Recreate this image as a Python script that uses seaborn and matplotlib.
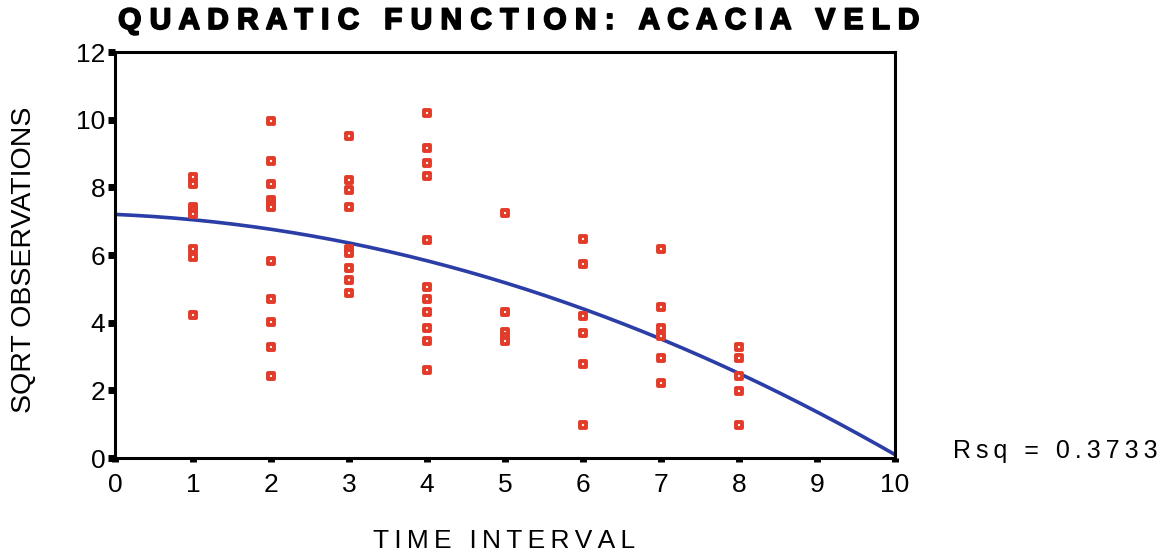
import numpy as np
import pandas as pd
import matplotlib
matplotlib.use("Agg")
import matplotlib.pyplot as plt
import matplotlib.patheffects as pe
import seaborn as sns

# ---- data ----
interval_1 = [8.32, 8.10, 7.43, 7.32, 7.20, 6.19, 5.95, 4.22]
interval_2 = [9.96, 8.78, 8.10, 7.62, 7.52, 7.43, 5.82, 4.70, 4.02, 3.29, 2.42]
interval_3 = [9.52, 8.22, 7.91, 7.42, 6.19, 6.06, 5.63, 5.26, 4.89]
interval_4 = [10.20, 9.15, 8.71, 8.34, 6.43, 5.06, 4.69, 4.32, 3.84, 3.46, 2.61]
interval_5 = [7.23, 4.32, 3.72, 3.59, 3.46]
interval_6 = [6.48, 5.74, 4.20, 3.70, 2.78, 0.98]
interval_7 = [6.18, 4.45, 3.84, 3.60, 2.97, 2.22]
interval_8 = [3.27, 2.97, 2.41, 1.97, 0.98]
# quadratic fit: b0 + b1*x + b2*x^2
fit_coef = [7.2, -0.0975, -0.06125]
x_ticks = [0, 1, 2, 3, 4, 5, 6, 7, 8, 9, 10]
y_ticks = [0, 2, 4, 6, 8, 10, 12]
title = "QUADRATIC FUNCTION: ACACIA VELD"
rsq_text = "Rsq = 0.3733"

groups = [interval_1, interval_2, interval_3, interval_4,
          interval_5, interval_6, interval_7, interval_8]
df = pd.DataFrame({
    "time": np.concatenate([[i + 1] * len(g) for i, g in enumerate(groups)]),
    "obs": np.concatenate(groups),
})
xs = np.linspace(x_ticks[0], x_ticks[-1], 200)
curve = pd.DataFrame({"time": xs,
                      "obs": fit_coef[0] + fit_coef[1] * xs + fit_coef[2] * xs ** 2})

sns.set_theme(style="white")
plt.rcParams["font.family"] = ["Liberation Sans", "DejaVu Sans"]
plt.rcParams["text.color"] = "black"
plt.rcParams["xtick.color"] = "black"
plt.rcParams["ytick.color"] = "black"

fig = plt.figure(figsize=(11.76, 5.59), dpi=100)
ax = fig.add_axes([115 / 1176, 1 - 458 / 559, 780 / 1176, 406 / 559])

red = "#e23b2a"
blue = "#2b3da6"
sns.lineplot(data=curve, x="time", y="obs", color=blue, lw=2.6, ax=ax, zorder=2)
sns.scatterplot(data=df, x="time", y="obs", marker="s", s=20, color="#fff4ea",
                edgecolor=red, linewidth=2.8, ax=ax, zorder=3)
ax.set_xlim(0, 10)
ax.set_ylim(0, 12)

for s in ax.spines.values():
    s.set_visible(True)
    s.set_color("black")
    s.set_linewidth(2.2)

ax.set_xticks(x_ticks)
ax.set_yticks(y_ticks)
ax.tick_params(axis="y", direction="out", length=5, width=5, color="black",
               labelsize=19, pad=2, left=True, labelcolor="black")
ax.tick_params(axis="x", direction="out", length=3, width=5, color="black",
               labelsize=19, pad=8, bottom=True, labelcolor="black")
ax.set_xlabel("")
ax.set_ylabel("")
ax.grid(False)

fig.text(504 / 1176, 1 - 541 / 559, "\u2009".join("TIME INTERVAL"), ha="center",
         va="center", fontsize=19)
fig.text(24 / 1176, 1 - 260 / 559, "SQRT OBSERVATIONS", ha="center", va="center",
         rotation=90, fontsize=20.5)
fig.text(1055 / 1176, 1 - 451 / 559, "\u2009".join(rsq_text), ha="center",
         va="center", fontsize=18)
spaced = "   ".join(" ".join(w) for w in title.split(" "))
fig.text(518 / 1176, 1 - 21 / 559, spaced, ha="center", va="center",
         fontsize=21.5, fontweight="bold",
         path_effects=[pe.withStroke(linewidth=1.3, foreground="black")])

fig.savefig("out.png", dpi=100, facecolor="white")
